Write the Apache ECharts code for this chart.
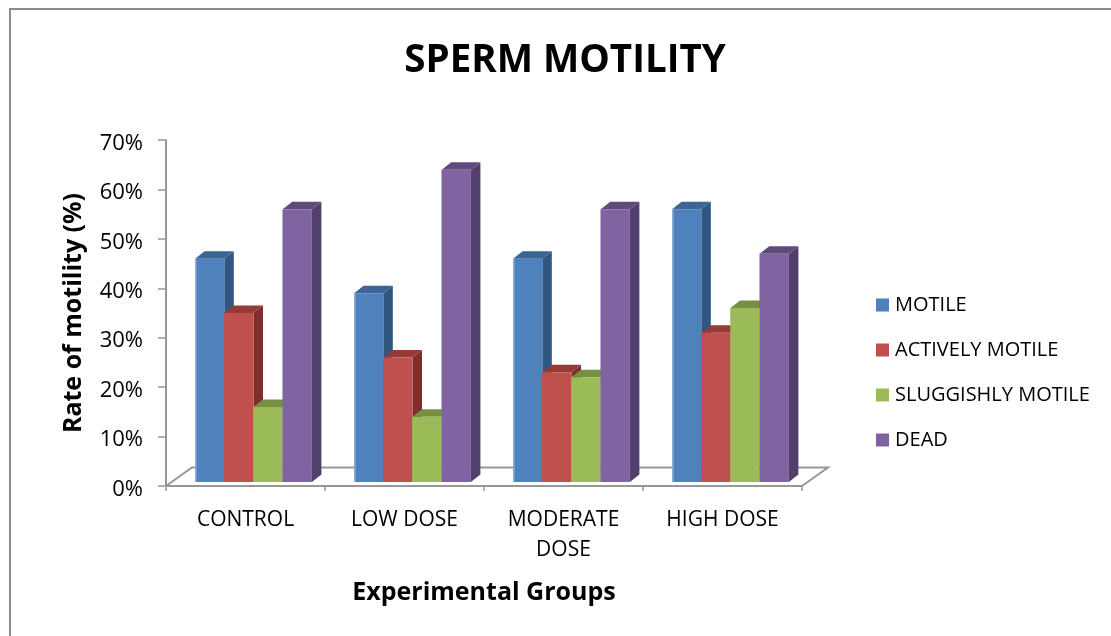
<!DOCTYPE html>
<html>
<head>
<meta charset="utf-8">
<style>html,body{margin:0;padding:0;background:#fff}#c{width:1111px;height:636px}</style>
<script src="https://cdn.jsdelivr.net/npm/echarts@6/dist/echarts.min.js"></script>
</head>
<body>
<div id="c"></div>
<script>
const categories = ['CONTROL', 'LOW DOSE', 'MODERATE\nDOSE', 'HIGH DOSE'];
const motile = [46, 39, 46, 56];
const activelyMotile = [35, 26, 23, 31];
const sluggishlyMotile = [16, 14, 22, 36];
const dead = [56, 64, 56, 47];
const yTicks = { min: 0, max: 70, interval: 10 };

const FONT = '"Open Sans", sans-serif';
const GREY = '#979797';
const BAR_W = 29.2, DX = 9.5, DY = 7.5, BASE_LIFT = 4, SHIFT = 8;

function series3d(name, values, idx, front, side, top, edge) {
  return {
    name, type: 'custom', coordinateSystem: 'cartesian2d',
    itemStyle: { color: front },
    encode: { x: 0, y: 1 },
    data: values.map((v, i) => [i, v]),
    z: 3 + idx,
    renderItem(params, api) {
      const p = api.coord([api.value(0), api.value(1)]);
      const b = api.coord([api.value(0), 0]);
      const x0 = p[0] + SHIFT - 2 * BAR_W + idx * BAR_W;
      const x1 = x0 + BAR_W;
      const y0 = p[1], y1 = b[1] - BASE_LIFT;
      const children = [
        { type: 'polygon', shape: { points: [[x1, y0], [x1 + DX, y0 - DY], [x1 + DX, y1 - DY], [x1, y1]] }, style: { fill: side } },
        { type: 'polygon', shape: { points: [[x0, y0], [x0 + DX, y0 - DY], [x1 + DX, y0 - DY], [x1, y0]] }, style: { fill: top } },
        { type: 'rect', shape: { x: x0, y: y0, width: BAR_W, height: y1 - y0 }, style: { fill: front } },
        { type: 'rect', shape: { x: x0, y: y0, width: 1.5, height: y1 - y0 }, style: { fill: edge } }
      ];
      return { type: 'group', children };
    }
  };
}

const chart = echarts.init(document.getElementById('c'), null, { renderer: 'canvas' });
chart.setOption({
  animation: false,
  backgroundColor: '#fff',
  title: {
    text: 'SPERM MOTILITY', left: 560, top: 37, textAlign: 'center',
    textStyle: { fontFamily: FONT, fontSize: 38.5, fontWeight: 'bold', color: '#000' }
  },
  grid: { left: 166, right: 309, top: 140, bottom: 150 },
  legend: {
    orient: 'vertical', left: 871, top: 290, itemWidth: 13, itemHeight: 13, itemGap: 25,
    icon: 'rect', selectedMode: false,
    textStyle: { fontFamily: FONT, fontSize: 20, color: '#000', padding: [0, 0, 0, 1], lineHeight: 18 }
  },
  xAxis: {
    type: 'category', data: categories,
    name: 'Experimental Groups', nameLocation: 'middle', nameGap: 94,
    nameTextStyle: { fontFamily: FONT, fontSize: 25, fontWeight: 'bold', color: '#000' },
    axisLine: { lineStyle: { color: GREY, width: 2 } },
    axisTick: { show: true, length: 5, alignWithLabel: false, lineStyle: { color: GREY, width: 1.5 } },
    axisLabel: { interval: 0, fontFamily: FONT, fontSize: 21, color: '#000', margin: 19, lineHeight: 30 },
    splitLine: { show: false }
  },
  yAxis: {
    type: 'value', min: yTicks.min, max: yTicks.max, interval: yTicks.interval,
    name: 'Rate of motility (%)', nameLocation: 'middle', nameGap: 80,
    nameTextStyle: { fontFamily: FONT, fontSize: 25, fontWeight: 'bold', color: '#000' },
    axisLine: { show: true, lineStyle: { color: GREY, width: 2 } },
    axisTick: { show: true, length: 8, lineStyle: { color: GREY, width: 1.5 } },
    axisLabel: {
      formatter: v => '{t|' + v + '%}', margin: 23,
      rich: { t: { fontFamily: FONT, fontSize: 22, color: '#000', padding: [7, 0, 0, 0] } }
    },
    splitLine: { show: false }
  },
  graphic: [
    { type: 'polyline', z: 0, shape: { points: [[10, 637], [10, 9], [1111, 9]] }, style: { stroke: '#8c8c8c', lineWidth: 2, fill: null } },
    { type: 'polyline', z: 0, shape: { points: [[166, 486], [192, 467.5], [828, 467.5], [802, 486]] }, style: { stroke: GREY, lineWidth: 2, fill: null } }
  ],
  series: [
    series3d('MOTILE', motile, 0, '#4F81BD', '#31567F', '#3A6595', '#8FAFD6'),
    series3d('ACTIVELY MOTILE', activelyMotile, 1, '#C0504D', '#7D2F2D', '#943A37', '#C0504D'),
    series3d('SLUGGISHLY MOTILE', sluggishlyMotile, 2, '#9BBB59', '#68803A', '#778F43', '#9BBB59'),
    series3d('DEAD', dead, 3, '#8064A2', '#523F6C', '#604A7B', '#8064A2')
  ]
});
</script>
</body>
</html>
